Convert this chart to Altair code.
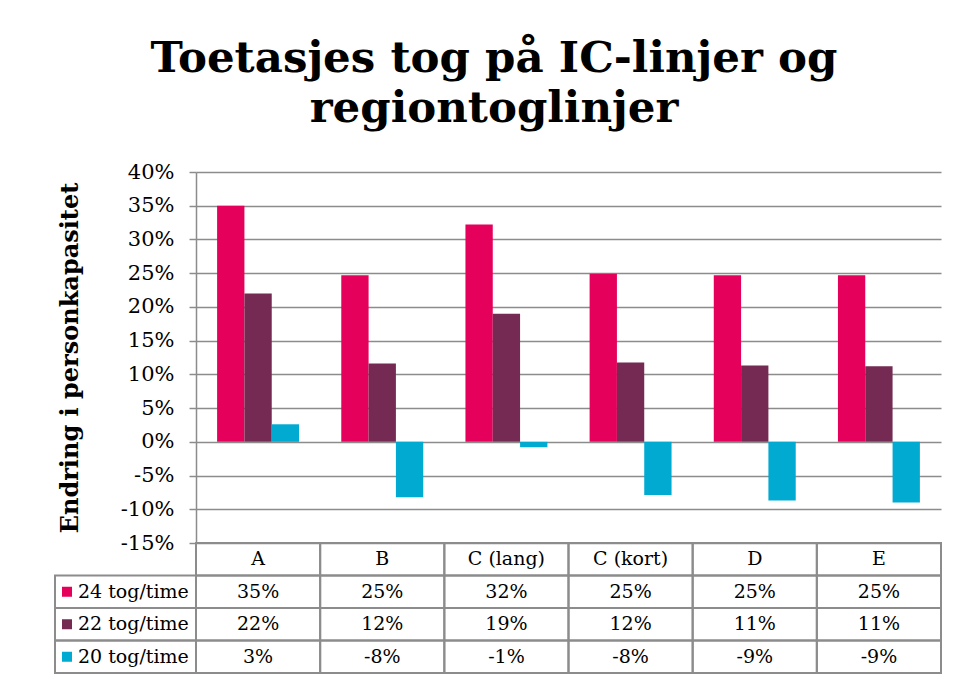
import altair as alt
import pandas as pd

# ---------------- data ----------------
categories = ["A", "B", "C (lang)", "C (kort)", "D", "E"]
series = ["24 tog/time", "22 tog/time", "20 tog/time"]
values_24 = [0.350, 0.247, 0.322, 0.249, 0.247, 0.247]
values_22 = [0.220, 0.116, 0.190, 0.1175, 0.113, 0.112]
values_20 = [0.026, -0.082, -0.008, -0.079, -0.087, -0.090]
y_ticks = [-0.15, -0.10, -0.05, 0.0, 0.05, 0.10, 0.15, 0.20, 0.25, 0.30, 0.35, 0.40]
title_lines = ["Toetasjes tog på IC-linjer og", "regiontoglinjer"]
y_title = "Endring i personkapasitet"
colors = ["#E4005B", "#742A53", "#00AAD1"]

# ---------------- layout / style ----------------
W = 745
H_PLOT = 371
H_TABLE = 130
N = len(categories)
LEG_START = -141 / (W / N)
FONT = "DejaVu Serif"
GRAY = "#8c8c8c"

series_values = [values_24, values_22, values_20]

bar_rows = []
for s, vals in zip(series, series_values):
    for c, v in zip(categories, vals):
        bar_rows.append({"cat": c, "series": s, "value": v})
bars_df = pd.DataFrame(bar_rows)

grid_rows = []
text_rows = []
for i, c in enumerate(categories):
    grid_rows.append({"row": "hdr", "x0": i, "x1": i + 1})
    text_rows.append({"row": "hdr", "xm": i + 0.5, "label": c})
for s, vals in zip(series, series_values):
    grid_rows.append({"row": s, "x0": LEG_START, "x1": 0})
    for i, v in enumerate(vals):
        grid_rows.append({"row": s, "x0": i, "x1": i + 1})
        text_rows.append({"row": s, "xm": i + 0.5, "label": f"{round(v * 100)}%"})
grid_df = pd.DataFrame(grid_rows)
text_df = pd.DataFrame(text_rows)
leg_df = pd.DataFrame({"row": series, "series": series, "x0": [LEG_START] * len(series)})

row_domain = ["hdr"] + series
color_scale = alt.Scale(domain=series, range=colors)

# ---------------- bars ----------------
bars = alt.Chart(bars_df).mark_bar().encode(
    x=alt.X("cat:N", sort=categories,
            scale=alt.Scale(domain=categories, paddingInner=0.34, paddingOuter=0.17),
            axis=None),
    xOffset=alt.XOffset("series:N", sort=series,
                        scale=alt.Scale(domain=series, paddingInner=0, paddingOuter=0)),
    y=alt.Y("value:Q",
            scale=alt.Scale(domain=[-0.15, 0.40], range=[H_PLOT, 0], nice=False),
            axis=alt.Axis(values=y_ticks, format=".0%", title=y_title,
                          grid=True, gridColor=GRAY, gridWidth=1.5,
                          domainColor=GRAY, domainWidth=1.5,
                          tickColor=GRAY, tickWidth=1.5, tickSize=7,
                          labelFont=FONT, labelFontSize=21, labelColor="black",
                          labelPadding=15,
                          titleFont=FONT, titleFontSize=24, titleFontWeight="bold",
                          titleColor="black", titlePadding=38)),
    color=alt.Color("series:N", scale=color_scale, legend=None),
)

# ---------------- data table ----------------
tx = alt.Scale(domain=[0, N], range=[0, W], nice=False, zero=False)
ty = alt.Scale(domain=row_domain, range=[H_PLOT, H_PLOT + H_TABLE],
               paddingInner=0, paddingOuter=0)

cells = alt.Chart(grid_df).mark_rect(fillOpacity=0, stroke=GRAY, strokeWidth=2).encode(
    x=alt.X("x0:Q", scale=tx, axis=None),
    x2="x1:Q",
    y=alt.Y("row:N", scale=ty, axis=None),
)

cell_text = alt.Chart(text_df).mark_text(font=FONT, fontSize=19, color="black",
                                         baseline="middle").encode(
    x=alt.X("xm:Q", scale=tx, axis=None),
    y=alt.Y("row:N", scale=ty, axis=None),
    text="label:N",
)

leg_sq = alt.Chart(leg_df).mark_point(shape="square", filled=True, size=100,
                                      opacity=1, xOffset=12).encode(
    x=alt.X("x0:Q", scale=tx, axis=None),
    y=alt.Y("row:N", scale=ty, axis=None),
    color=alt.Color("series:N", scale=color_scale, legend=None),
)

leg_text = alt.Chart(leg_df).mark_text(font=FONT, fontSize=19, color="black",
                                       align="left", baseline="middle", dx=23).encode(
    x=alt.X("x0:Q", scale=tx, axis=None),
    y=alt.Y("row:N", scale=ty, axis=None),
    text="series:N",
)

table = alt.layer(cells, cell_text, leg_sq, leg_text)

chart = alt.layer(bars, table).resolve_scale(x="independent", y="independent").properties(
    width=W,
    height=H_PLOT + H_TABLE,
    autosize=alt.AutoSizeParams(type="none"),
    padding={"left": 188, "top": 164, "right": 10, "bottom": 5},
    title=alt.TitleParams(text=title_lines, font=FONT, fontSize=43.5, fontWeight="bold",
                          color="black", anchor="middle", frame="bounds",
                          lineHeight=50, offset=30, dx=-4),
    background="white",
).configure(
    locale={"number": {"decimal": ".", "thousands": ",", "grouping": [3],
                       "currency": ["", ""], "minus": "-"}}
).configure_view(strokeWidth=0)

chart.save("out.html", embed_options={"renderer": "svg", "actions": False})
